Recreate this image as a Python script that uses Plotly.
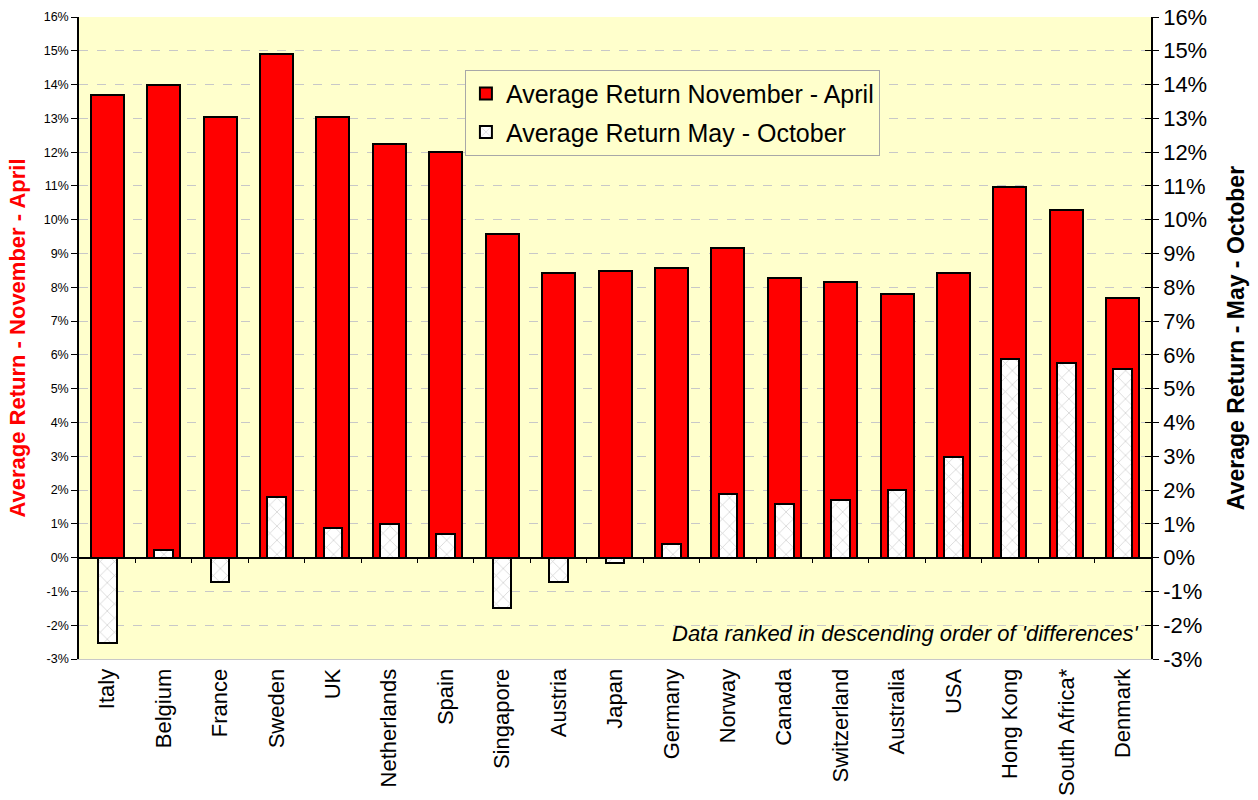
import plotly.graph_objects as go

countries = ["Italy", "Belgium", "France", "Sweden", "UK", "Netherlands", "Spain",
             "Singapore", "Austria", "Japan", "Germany", "Norway", "Canada",
             "Switzerland", "Australia", "USA", "Hong Kong", "South Africa*", "Denmark"]
nov_apr = [13.7, 14.0, 13.05, 14.9, 13.05, 12.25, 12.0, 9.58, 8.42, 8.47, 8.58,
           9.16, 8.28, 8.17, 7.8, 8.42, 10.97, 10.3, 7.68]
may_oct = [-2.52, 0.24, -0.72, 1.78, 0.89, 1.0, 0.71, -1.5, -0.72, -0.17, 0.4,
           1.89, 1.6, 1.72, 2.0, 2.98, 5.88, 5.77, 5.59]
y_ticks = list(range(-3, 17))
y_tick_text = [f"{v}%" for v in y_ticks]
between_ticks = [i + 0.5 for i in range(len(countries) - 1)]

FONT = "Liberation Sans, Arial, sans-serif"
YR = [-3, 16]

fig = go.Figure()
fig.add_trace(go.Bar(
    x=countries, y=nov_apr, name="Average Return November - April",
    width=0.585, marker=dict(color="#ff0000", line=dict(color="black", width=2)),
    yaxis="y", legendgroup="a"))
fig.add_trace(go.Bar(
    x=countries, y=may_oct, name="Average Return May - October",
    width=0.33,
    marker=dict(color="white", line=dict(color="black", width=2),
                pattern=dict(shape="x", fgcolor="#a0a0a0", bgcolor="white",
                             size=10, solidity=0.14)),
    yaxis="y2", legendgroup="b"))
# helper (empty) traces so the extra axes get drawn
fig.add_trace(go.Scatter(x=[None], y=[None], xaxis="x2", yaxis="y",
                         showlegend=False, hoverinfo="skip"))
fig.add_trace(go.Scatter(x=[None], y=[None], xaxis="x", yaxis="y3",
                         showlegend=False, hoverinfo="skip"))

zero_pos = (0 - YR[0]) / (YR[1] - YR[0])

fig.update_layout(
    width=1258, height=800,
    margin=dict(l=79, r=107, t=17, b=141),
    paper_bgcolor="white", plot_bgcolor="#ffffcc",
    barmode="overlay", bargap=0,
    font=dict(family=FONT, color="black"),
    xaxis=dict(domain=[0, 1], anchor="y", tickangle=-90, tickfont=dict(size=22),
               showgrid=False, ticks="", showline=True, linecolor="#c8c8c8",
               linewidth=1, range=[-0.5, 18.5], automargin=False),
    xaxis2=dict(overlaying="x", anchor="free", position=zero_pos, side="bottom",
                type="linear", range=[-0.5, 18.5], tickmode="array",
                tickvals=between_ticks, showticklabels=False, ticks="outside",
                ticklen=5, tickcolor="black", showline=True, linecolor="black",
                linewidth=1.5, showgrid=False, zeroline=False, automargin=False),
    yaxis=dict(range=YR, tickmode="array", tickvals=y_ticks, ticktext=y_tick_text,
               ticks="outside", ticklen=6, tickcolor="black", showline=True,
               linecolor="black", linewidth=1.5, showgrid=True,
               gridcolor="#c8c8c8", griddash="dash", gridwidth=1, zeroline=False,
               tickfont=dict(size=12.5), automargin=False,
               title=dict(text="Average Return - November - April",
                          font=dict(size=22, color="#ff0000", weight="bold"),
                          standoff=12)),
    yaxis2=dict(range=YR, overlaying="y", side="right", anchor="x",
                tickmode="array", tickvals=y_ticks, ticktext=y_tick_text,
                ticks="outside", ticklen=6, tickcolor="black", showline=True,
                linecolor="black", linewidth=1.5, showgrid=False, zeroline=False,
                tickfont=dict(size=22), automargin=False,
                title=dict(text="Average Return - May - October",
                           font=dict(size=23, color="black", weight="bold"),
                           standoff=22)),
    yaxis3=dict(range=YR, overlaying="y", side="right", anchor="x",
                tickmode="array", tickvals=y_ticks, showticklabels=False,
                ticks="inside", ticklen=6, tickcolor="black", showline=False,
                showgrid=False, zeroline=False, automargin=False),
    legend=dict(x=0.360, y=0.918, xanchor="left", yanchor="top",
                bgcolor="#ffffcc", bordercolor="#a8a8a8", borderwidth=1,
                font=dict(size=25), tracegroupgap=3, itemwidth=30),
    showlegend=True,
    annotations=[dict(text="Data ranked in descending order of 'differences'",
                      xref="paper", yref="paper", x=0.9907, y=0.039,
                      xanchor="right", yanchor="middle", showarrow=False,
                      font=dict(size=22, style="italic"))],
)

fig.write_html("out.html", config={"displayModeBar": False},
               post_script="document.body.style.margin='0';")
